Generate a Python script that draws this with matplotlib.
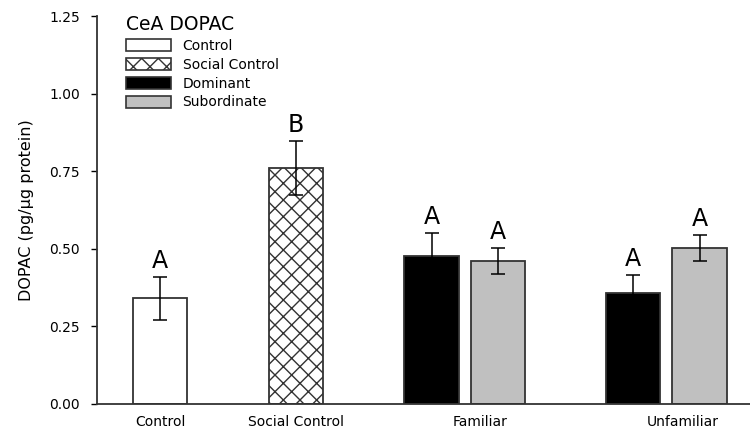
import matplotlib.pyplot as plt
from matplotlib.patches import Patch

# bar data
positions = [0, 2.5, 5.0, 6.22, 8.72, 9.94]
means = [0.341, 0.760, 0.477, 0.461, 0.358, 0.503]
sems = [0.069, 0.087, 0.074, 0.042, 0.058, 0.041]
faces = ["white", "white", "black", "#c0c0c0", "black", "#c0c0c0"]
hatches = ["", "xx", "", "", "", ""]
letters = ["A", "B", "A", "A", "A", "A"]

group_pos = [0, 2.5, 5.89, 9.63]
group_names = ["Control", "Social Control", "Familiar", "Unfamiliar"]

legend_names = ["Control", "Social Control", "Dominant", "Subordinate"]
legend_faces = ["white", "white", "black", "#c0c0c0"]
legend_hatch = ["", "xx", "", ""]

plt.rcParams['font.family'] = ['DejaVu Sans']
plt.rcParams['hatch.linewidth'] = 1.0
plt.rcParams['hatch.color'] = 'black'

fig = plt.figure(figsize=(7.5, 4.33), dpi=100)
ax = fig.add_axes([0.129, 0.067, 0.871, 0.896])

ax.bar(positions, means, width=1.0, color=faces, edgecolor="#333333",
       linewidth=1.3, hatch=hatches, zorder=2)
ax.errorbar(positions, means, yerr=sems, fmt="none", ecolor="black",
            elinewidth=1.1, capsize=5, capthick=1.1, zorder=3)
for x, m, s, t in zip(positions, means, sems, letters):
    ax.text(x, m + s + 0.012, t, ha="center", va="bottom", fontsize=17)

ax.set_xlim(-1.17, 10.87)
ax.set_ylim(0, 1.25)
ax.set_yticks([0, 0.25, 0.5, 0.75, 1.0, 1.25])
ax.set_yticklabels(["0.00", "0.25", "0.50", "0.75", "1.00", "1.25"])
ax.set_xticks(group_pos)
ax.set_xticklabels(group_names)
ax.tick_params(axis="x", length=0, pad=8, labelsize=10)
ax.tick_params(axis="y", length=4, pad=8, labelsize=10, width=1)
ax.spines["top"].set_visible(False)
ax.spines["right"].set_visible(False)
for s in ("left", "bottom"):
    ax.spines[s].set_color("#333333")
    ax.spines[s].set_linewidth(1.3)
ax.set_ylabel("DOPAC (pg/\u03bcg protein)", fontsize=11.5)
ax.yaxis.set_label_coords(-0.096, 0.5)

handles = [Patch(facecolor=f, edgecolor="#333333", hatch=h, linewidth=1.2)
           for f, h in zip(legend_faces, legend_hatch)]
leg = ax.legend(handles, legend_names, loc="upper left",
                bbox_to_anchor=(0.025, 1.035), frameon=False,
                title="CeA DOPAC", title_fontsize=13.5, fontsize=10,
                handlelength=3.3, handleheight=0.95, labelspacing=0.35,
                handletextpad=0.8, alignment="left")

fig.savefig("out.png", dpi=100)
